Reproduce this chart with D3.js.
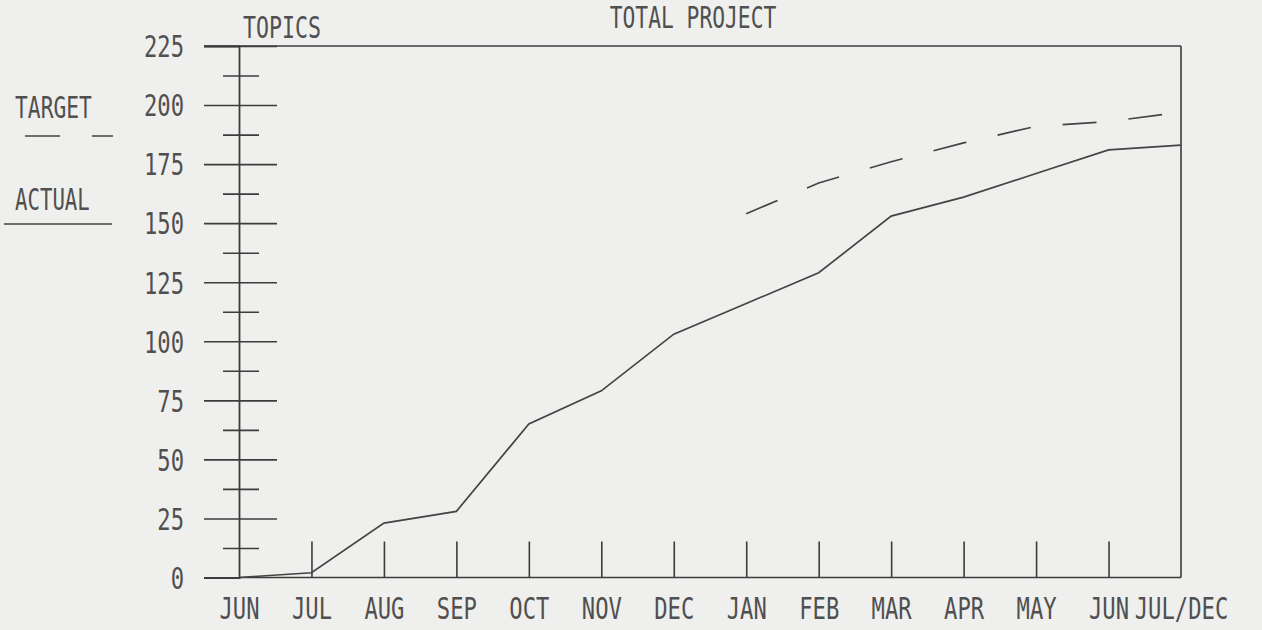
<!DOCTYPE html>
<html><head><meta charset="utf-8">
<script src="https://cdn.jsdelivr.net/npm/d3@7"></script>
<style>
html,body{margin:0;padding:0;background:#efefed;}
svg{display:block;}
text{font-family:"DejaVu Sans Mono","Liberation Mono",monospace;fill:#505050;}
</style></head>
<body>
<svg id="c" width="1262" height="630"></svg>
<script>
const months = ["JUN","JUL","AUG","SEP","OCT","NOV","DEC","JAN","FEB","MAR","APR","MAY","JUN","JUL/DEC"];
const actual = [0,2,23,28,65,79,103,116,129,153,161,171,181,183];
const target = [null,null,null,null,null,null,null,154,167,176,184,191,193,197];
const yTicks = [0,25,50,75,100,125,150,175,200,225];
const yMinor = [12.5,37.5,62.5,87.5,112.5,137.5,162.5,187.5,212.5];
const title = "TOTAL PROJECT";
const yTitle = "TOPICS";
const legendLabels = ["TARGET","ACTUAL"];

const svg = d3.select("#c");
const ink = "#3c3c3c";
const SX = 0.74;
function squeeze(sel, sx){
  sel.each(function(){
    const t = d3.select(this);
    const tx = +t.attr("x")||0, ty = +t.attr("y")||0;
    t.attr("x",0).attr("y",0).attr("transform",`translate(${tx},${ty}) scale(${sx},1)`);
  });
}
const x = d3.scalePoint().domain(d3.range(months.length)).range([239,1181]).padding(0);
const y = d3.scaleLinear().domain([0,225]).range([577.5,46]);

// frame: top, right, bottom
svg.append("line").attr("x1",204).attr("x2",x(13)).attr("y1",y(225)).attr("y2",y(225)).attr("stroke",ink).attr("stroke-width",1.6);
svg.append("line").attr("x1",x(13)).attr("x2",x(13)).attr("y1",y(225)).attr("y2",y(0)).attr("stroke",ink).attr("stroke-width",1.6);
svg.append("line").attr("x1",x(0)).attr("x2",x(13)).attr("y1",y(0)).attr("y2",y(0)).attr("stroke",ink).attr("stroke-width",1.6);

// y axis major
const ya = svg.append("g").attr("transform",`translate(${x(0)},0)`)
  .call(d3.axisLeft(y).tickValues(yTicks).tickSize(35).tickPadding(20).tickFormat(d=>d));
ya.select(".domain").attr("stroke",ink).attr("stroke-width",1.8);
ya.selectAll(".tick line").attr("x1",38).attr("stroke",ink).attr("stroke-width",1.6);
ya.selectAll(".tick").filter(d=>d===0).select("line").attr("x1",0).attr("stroke-dasharray","3,2");
ya.selectAll(".tick text").attr("font-size",30).attr("fill","#505050").attr("dy","0.36em")
  .style("font-family",'"DejaVu Sans Mono","Liberation Mono",monospace').call(squeeze,SX);
// y axis minor
const ym = svg.append("g").attr("transform",`translate(${x(0)},0)`)
  .call(d3.axisLeft(y).tickValues(yMinor).tickSize(16).tickFormat(""));
ym.select(".domain").remove();
ym.selectAll(".tick line").attr("x1",20).attr("stroke",ink).attr("stroke-width",1.6);

// x axis
const xa = svg.append("g").attr("transform",`translate(0,${y(0)})`)
  .call(d3.axisTop(x).tickSize(36).tickFormat(""));
xa.select(".domain").remove();
xa.selectAll(".tick").filter(d=>d===0||d===13).select("line").remove();
xa.selectAll(".tick line").attr("stroke",ink).attr("stroke-width",1.6);
const xl = svg.append("g").attr("transform",`translate(0,${y(0)})`)
  .call(d3.axisBottom(x).tickSize(0).tickPadding(20).tickFormat(i=>months[i]));
xl.select(".domain").remove();
xl.selectAll(".tick text").attr("font-size",30).attr("fill","#505050").attr("dy","0.73em")
  .style("font-family",'"DejaVu Sans Mono","Liberation Mono",monospace').call(squeeze,SX);

// lines
const line = d3.line().defined(d=>d.v!=null).x(d=>x(d.i)).y(d=>y(d.v));
svg.append("path").datum(actual.map((v,i)=>({i,v})))
  .attr("d",line).attr("fill","none").attr("stroke","#444").attr("stroke-width",1.7);
svg.append("path").datum(target.map((v,i)=>({i,v})))
  .attr("d",line).attr("fill","none").attr("stroke","#444").attr("stroke-width",1.7)
  .attr("stroke-dasharray","34,32");

// titles
svg.append("text").attr("x",693).attr("y",28).attr("text-anchor","middle").attr("font-size",30).text(title).call(squeeze,0.71);
svg.append("text").attr("x",243).attr("y",38).attr("font-size",30).text(yTitle).call(squeeze,0.72);

// legend
svg.append("text").attr("x",15).attr("y",118).attr("font-size",30).text(legendLabels[0]).call(squeeze,0.71);
svg.append("line").attr("x1",25).attr("x2",113).attr("y1",136).attr("y2",136)
  .attr("stroke","#444").attr("stroke-width",1.6).attr("stroke-dasharray","35,32");
svg.append("text").attr("x",15).attr("y",210).attr("font-size",30).text(legendLabels[1]).call(squeeze,0.69);
svg.append("line").attr("x1",4).attr("x2",112).attr("y1",224).attr("y2",224)
  .attr("stroke","#444").attr("stroke-width",1.6);
</script>
</body></html>
